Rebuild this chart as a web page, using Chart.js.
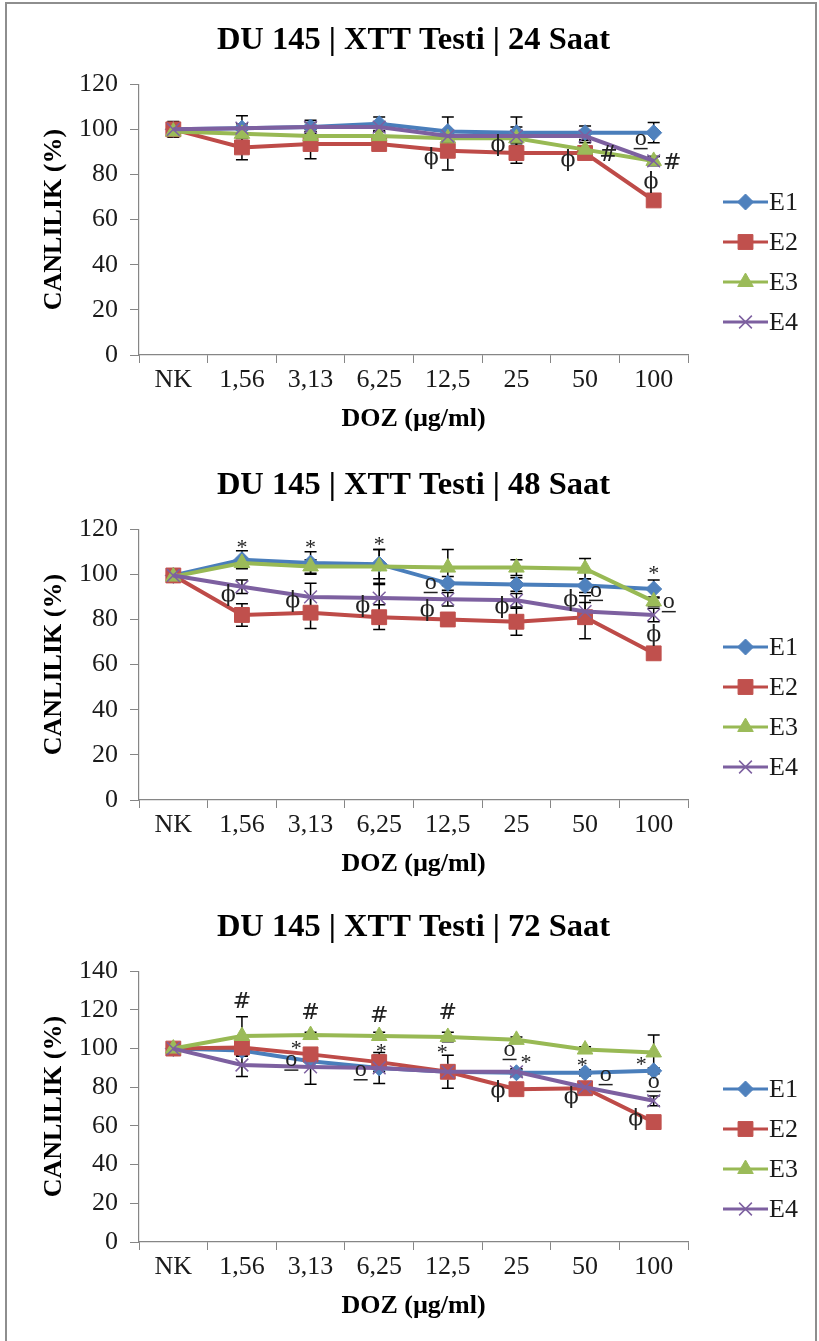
<!DOCTYPE html>
<html>
<head>
<meta charset="utf-8">
<script src="https://cdn.jsdelivr.net/npm/chart.js@4.4.1/dist/chart.umd.min.js"></script>
<style>
  html, body { margin: 0; padding: 0; background: #fff; }
  body { width: 819px; height: 1341px; position: relative; overflow: hidden; }
  canvas { position: absolute; left: 0; }
  #frame { position: absolute; left: 5px; top: 2px; width: 808px; height: 1360px; border: 2px solid #8e8e8e; }
</style>
</head>
<body>
<div id="frame"></div>
<canvas id="c24" width="819" height="447" style="top:0px"></canvas>
<canvas id="c48" width="819" height="447" style="top:445px"></canvas>
<canvas id="c72" width="819" height="447" style="top:887px"></canvas>
<script>
const doses = ["NK", "1,56", "3,13", "6,25", "12,5", "25", "50", "100"];
const seriesNames = ["E1", "E2", "E3", "E4"];

// 24 saat
const e1_24 = [100, 100.5, 101, 102.5, 99, 98.5, 98.5, 98.5];
const e2_24 = [100, 92, 93.5, 93.5, 90.5, 89.5, 89.5, 68.5];
const e3_24 = [99, 98, 97, 97, 96, 96, 91, 86];
const e4_24 = [100, 100.5, 101, 101, 97, 97, 97, 86];
const err1_24 = [2, 5.5, 3, 3, 6.5, 7, 3, 4.5];
const err2_24 = [3.5, 5.5, 6.5, 2, 8.5, 4.5, 2, 2];
const err3_24 = [2, 2, 2, 2, 2, 2, 3, 2];
const err4_24 = [2, 2, 2, 2, 2, 4, 2, 2];
const marks_24 = [["ϕ", 3.76, 87], ["ϕ", 4.73, 93], ["ϕ", 5.75, 86.5], ["#", 6.34, 88.5],
  ["o̲", 6.81, 95], ["#", 7.27, 85], ["ϕ", 6.96, 76.5]];

// 48 saat
const e1_48 = [99.5, 106.5, 105, 104.5, 96, 95.5, 95, 93.5];
const e2_48 = [99.5, 82, 83, 81, 80, 79, 81, 65];
const e3_48 = [99, 105, 103.5, 103.5, 103, 103, 102.5, 88];
const e4_48 = [99.5, 94.5, 90, 89.5, 89, 88.5, 83.5, 82];
const err1_48 = [2, 4, 5, 6.5, 3, 3, 3, 4];
const err2_48 = [2, 5, 7, 5.5, 3, 6, 9.5, 2];
const err3_48 = [2, 2, 3, 7.5, 8, 3.5, 4.5, 2];
const err4_48 = [2, 3, 6, 6, 3, 3, 4, 3];
const marks_48 = [["*", 1, 113.5], ["*", 2, 113.5], ["*", 3, 114.5], ["*", 7, 102],
  ["ϕ", 0.8, 90.5], ["ϕ", 1.74, 88], ["ϕ", 2.76, 86], ["o̲", 3.75, 95.5], ["ϕ", 3.7, 84],
  ["ϕ", 4.79, 85.5], ["ϕ", 5.79, 88.5], ["o̲", 6.16, 92], ["o̲", 7.22, 87], ["ϕ", 7, 73]];

// 72 saat
const e1_72 = [100, 99, 93.5, 90, 88, 87.5, 87.5, 88.5];
const e2_72 = [100, 100.5, 97, 93, 88, 79, 79.5, 62];
const e3_72 = [100, 106.5, 107, 106.5, 106, 104.5, 99.5, 98];
const e4_72 = [100, 91.5, 90.5, 90, 88, 88, 80, 73];
const err1_72 = [1.5, 3, 3, 8, 2, 2, 1.5, 1.5];
const err2_72 = [1.5, 2, 2, 3.5, 8.5, 1.5, 1.5, 1.5];
const err3_72 = [1.5, 10, 1.5, 2, 2.5, 1.5, 1.5, 9];
const err4_72 = [1.5, 6, 9, 2, 2, 1.5, 1.5, 2.5];
const marks_72 = [["#", 1, 124], ["#", 2, 118], ["#", 3, 116.5], ["#", 4, 118],
  ["*", 1.79, 101.5], ["o̲", 1.72, 93], ["*", 3.03, 100], ["o̲", 2.73, 88], ["*", 3.92, 99.5],
  ["o̲", 4.9, 98.5], ["*", 5.14, 94.5], ["ϕ", 4.73, 78], ["*", 5.96, 93], ["o̲", 6.3, 85.5],
  ["ϕ", 5.8, 75], ["*", 6.82, 93.5], ["o̲", 7, 82], ["ϕ", 6.74, 63.5]];

const yTicks_24 = { max: 120, step: 20 };
const yTicks_48 = { max: 120, step: 20 };
const yTicks_72 = { max: 140, step: 20 };

const serif = "'Liberation Serif', 'Times New Roman', serif";
Chart.defaults.font.family = serif;
Chart.defaults.color = "#1a1a1a";

const styles = [
  { line: "#4A7EBB", fill: "#4F81BD", point: "rectRot", r: 8 },
  { line: "#BE4B48", fill: "#C0504D", point: "rect", r: 10.5 },
  { line: "#98B954", fill: "#9BBB59", point: "triangle", r: 9 },
  { line: "#7D60A0", fill: "#8064A2", point: "crossRot", r: 9 },
];

// error bars drawn behind the lines
const errorBars = {
  id: "errorBars",
  beforeDatasetsDraw(chart, args, opts) {
    const { ctx, scales: { x, y } } = chart;
    ctx.save();
    ctx.strokeStyle = "#000";
    ctx.lineWidth = 1.5;
    chart.data.datasets.forEach((ds, k) => {
      opts.errors[k].forEach((e, i) => {
        const px = x.getPixelForValue(i);
        const top = y.getPixelForValue(ds.data[i] + e);
        const bot = y.getPixelForValue(ds.data[i] - e);
        ctx.beginPath();
        ctx.moveTo(px, top); ctx.lineTo(px, bot);
        ctx.moveTo(px - 6, top); ctx.lineTo(px + 6, top);
        ctx.moveTo(px - 6, bot); ctx.lineTo(px + 6, bot);
        ctx.stroke();
      });
    });
    ctx.restore();
  }
};

// significance symbols
const sigMarks = {
  id: "sigMarks",
  afterDatasetsDraw(chart, args, opts) {
    const { ctx, scales: { x, y } } = chart;
    ctx.save();
    ctx.fillStyle = "#222";
    ctx.strokeStyle = "#222";
    ctx.textAlign = "center";
    ctx.textBaseline = "middle";
    opts.items.forEach(([sym, i, v]) => {
      const px = x.getPixelForValue(i);
      const py = y.getPixelForValue(v);
      if (sym === "o̲") {
        ctx.font = "24px " + serif;
        ctx.fillText("o", px, py - 2);
        ctx.lineWidth = 1.5;
        ctx.beginPath();
        ctx.moveTo(px - 7, py + 8); ctx.lineTo(px + 7, py + 8);
        ctx.stroke();
      } else if (sym === "*") {
        ctx.font = "22px " + serif;
        ctx.fillText(sym, px, py + 4);
      } else {
        ctx.font = "22px 'DejaVu Serif', " + serif;
        ctx.fillText(sym, px, py);
      }
    });
    ctx.restore();
  }
};

// legend on the right: line + marker + label
const sideLegend = {
  id: "sideLegend",
  afterDraw(chart, args, opts) {
    const ctx = chart.ctx;
    chart.data.datasets.forEach((ds, i) => {
      const yc = opts.top + i * opts.gap;
      ctx.save();
      ctx.strokeStyle = ds.borderColor;
      ctx.lineWidth = 3;
      ctx.beginPath();
      ctx.moveTo(opts.x, yc); ctx.lineTo(opts.x + 45, yc);
      ctx.stroke();
      ctx.fillStyle = ds.pointBackgroundColor;
      ctx.strokeStyle = ds.pointBorderColor;
      ctx.lineWidth = ds.pointBorderWidth;
      Chart.helpers.drawPoint(ctx, {
        pointStyle: ds.pointStyle, rotation: 0,
        radius: ds.pointRadius, borderWidth: ds.pointBorderWidth
      }, opts.x + 22.5, yc);
      ctx.fillStyle = "#1a1a1a";
      ctx.font = "26px " + serif;
      ctx.textAlign = "left";
      ctx.textBaseline = "middle";
      ctx.fillText(ds.label, opts.x + 46, yc + 1);
      ctx.restore();
    });
  }
};

function makeChart(id, hours, series, errors, marks, yt) {
  const datasets = series.map((vals, k) => ({
    label: seriesNames[k],
    data: vals,
    borderColor: styles[k].line,
    borderWidth: 4,
    pointStyle: styles[k].point,
    pointRadius: styles[k].r,
    pointHoverRadius: styles[k].r,
    pointBackgroundColor: styles[k].fill,
    pointBorderColor: k === 3 ? styles[k].line : styles[k].fill,
    pointBorderWidth: k === 3 ? 1.5 : 1,
    tension: 0,
    fill: false,
    order: 3 - k,
  }));
  return new Chart(document.getElementById(id), {
    type: "line",
    data: { labels: doses, datasets },
    plugins: [errorBars, sigMarks, sideLegend],
    options: {
      responsive: false,
      animation: false,
      layout: { padding: { left: 0, right: 131, top: 0, bottom: 12.4 } },
      plugins: {
        legend: { display: false },
        tooltip: { enabled: false },
        title: {
          display: true,
          fullSize: false,
          text: "DU 145 | XTT Testi | " + hours + " Saat",
          color: "#000",
          font: { size: 32.5, weight: "bold", lineHeight: 1.2 },
          padding: { top: 21.5, bottom: 23.7 },
        },
        errorBars: { errors },
        sigMarks: { items: marks },
        sideLegend: { x: 723, top: 202, gap: 40 },
      },
      scales: {
        x: {
          offset: true,
          grid: { offset: true, drawOnChartArea: false, tickLength: 8, color: "#868686" },
          border: { color: "#868686", width: 1.2 },
          ticks: { font: { size: 26 }, padding: 2, maxRotation: 0, autoSkip: false, color: "#1a1a1a" },
          title: {
            display: true, text: "DOZ (µg/ml)", color: "#000",
            font: { size: 26, weight: "bold", lineHeight: 1.2 },
            padding: { top: 0, bottom: 0 },
          },
          afterFit(s) { s.height = 79.6; },
        },
        y: {
          min: 0, max: yt.max,
          grid: { drawOnChartArea: false, tickLength: 9, color: "#868686" },
          border: { color: "#868686", width: 1.2 },
          ticks: { stepSize: yt.step, font: { size: 26 }, padding: 12, color: "#1a1a1a" },
          title: {
            display: true, text: "CANLILIK (%)", color: "#000",
            font: { size: 26, weight: "bold", lineHeight: 1.2 },
            padding: { top: 39, bottom: 0 },
          },
          afterFit(s) { s.width = 139; },
        },
      },
    },
  });
}

makeChart("c24", 24, [e1_24, e2_24, e3_24, e4_24], [err1_24, err2_24, err3_24, err4_24], marks_24, yTicks_24);
makeChart("c48", 48, [e1_48, e2_48, e3_48, e4_48], [err1_48, err2_48, err3_48, err4_48], marks_48, yTicks_48);
makeChart("c72", 72, [e1_72, e2_72, e3_72, e4_72], [err1_72, err2_72, err3_72, err4_72], marks_72, yTicks_72);
</script>
</body>
</html>
